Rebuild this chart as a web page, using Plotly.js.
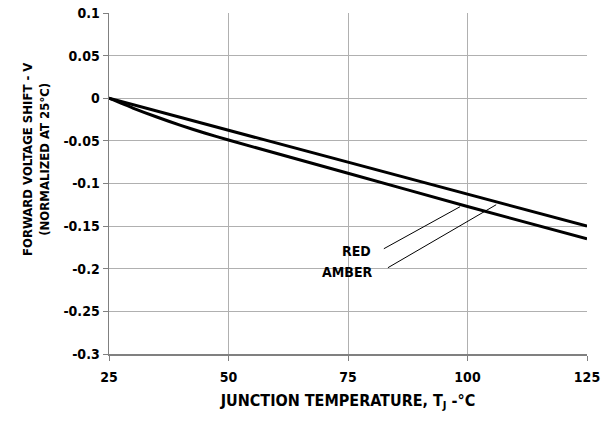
<!DOCTYPE html>
<html>
<head>
<meta charset="utf-8">
<script src="https://cdn.plot.ly/plotly-3.0.1.min.js"></script>
<style>html,body{margin:0;padding:0;background:#fff;}#chart{width:614px;height:428px;}</style>
</head>
<body>
<div id="chart"></div>
<script>
const temperature = [25, 30, 35, 40, 45, 50, 75, 100, 125];
const amberShift = [0, -0.0075, -0.015, -0.0225, -0.03, -0.0375, -0.075, -0.1125, -0.15];
const redShift = [0, -0.0115, -0.022, -0.0318, -0.0408, -0.049, -0.088, -0.127, -0.165];
const xTicks = [25, 50, 75, 100, 125];
const yTicks = [0.1, 0.05, 0, -0.05, -0.1, -0.15, -0.2, -0.25, -0.3];
const yTickLabels = ['0.1', '0.05', '0', '-0.05', '-0.1', '-0.15', '-0.2', '-0.25', '-0.3'];
const seriesNames = ['RED', 'AMBER'];

const FONT = '"DejaVu Sans Condensed", "Liberation Sans Narrow", sans-serif';

const traces = [
  {x: temperature, y: redShift, name: seriesNames[0], mode: 'lines', line: {color: '#000', width: 3, shape: 'spline', smoothing: 0.6}},
  {x: temperature, y: amberShift, name: seriesNames[1], mode: 'lines', line: {color: '#000', width: 3}}
];

const layout = {
  width: 614, height: 428,
  margin: {l: 108.5, r: 27.3, t: 13.3, b: 73.7},
  paper_bgcolor: '#fff', plot_bgcolor: '#fff',
  showlegend: false,
  font: {family: FONT, color: '#000', size: 14, weight: 'bold'},
  xaxis: {
    range: [25, 125], tickvals: xTicks, ticktext: xTicks.map(v => '<b>' + v + '</b>'),
    showgrid: true, gridcolor: '#b0b0b0', gridwidth: 1,
    showline: true, linecolor: '#808080', linewidth: 1.5,
    ticks: 'outside', ticklen: 5, tickcolor: '#808080',
    ticklabelstandoff: 5,
    tickfont: {family: FONT, size: 14, color: '#000'},
    zeroline: false,
    title: {text: '<b>JUNCTION TEMPERATURE, T<sub>J</sub> -°C</b>', font: {family: FONT, size: 16, color: '#000'}, standoff: 10}
  },
  yaxis: {
    range: [-0.3, 0.1], tickvals: yTicks, ticktext: yTickLabels.map(t => '<b>' + t + '</b>'),
    showgrid: true, gridcolor: '#b0b0b0', gridwidth: 1,
    showline: true, linecolor: '#808080', linewidth: 1.5,
    ticks: 'outside', ticklen: 5, tickcolor: '#808080',
    tickfont: {family: FONT, size: 14, color: '#000'},
    zeroline: false
  },
  annotations: [
    {xref: 'paper', yref: 'paper', x: -0.154, y: 0.57, xanchor: 'center', yanchor: 'middle',
     textangle: -90, showarrow: false, align: 'center',
     text: '<b>FORWARD VOLTAGE SHIFT - V</b><br><b>(NORMALIZED AT 25°C)</b>',
     font: {family: FONT, size: 13, color: '#000'}},
    {xref: 'x', yref: 'y', x: 80.3, y: -0.1788, xanchor: 'right', yanchor: 'middle', showarrow: false,
     text: '<b>' + seriesNames[0] + '</b>', font: {family: FONT, size: 14, color: '#000'}},
    {xref: 'x', yref: 'y', x: 80.5, y: -0.2043, xanchor: 'right', yanchor: 'middle', showarrow: false,
     text: '<b>' + seriesNames[1] + '</b>', font: {family: FONT, size: 14, color: '#000'}}
  ],
  shapes: [
    {type: 'line', xref: 'x', yref: 'y', x0: 82.5, y0: -0.1765, x1: 98.45, y1: -0.1272, line: {color: '#000', width: 1}},
    {type: 'line', xref: 'x', yref: 'y', x0: 83.35, y0: -0.1988, x1: 106.0, y1: -0.1249, line: {color: '#000', width: 1}}
  ]
};

Plotly.newPlot('chart', traces, layout, {displayModeBar: false, staticPlot: true});
</script>
</body>
</html>
